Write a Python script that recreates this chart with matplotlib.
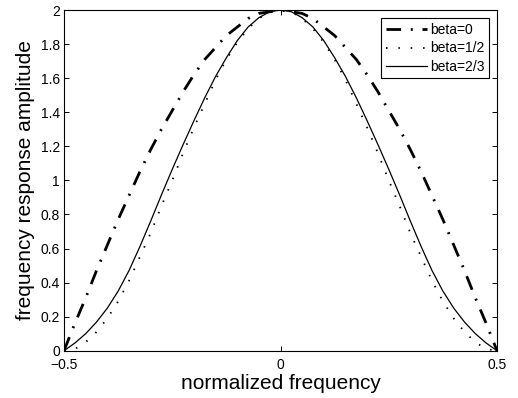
import matplotlib
matplotlib.use("Agg")
import matplotlib.pyplot as plt

plt.rcParams['font.family'] = ['Liberation Sans', 'DejaVu Sans']
plt.rcParams['lines.scale_dashes'] = False

# normalized frequency samples (every 0.025)
freq = [-0.5, -0.475, -0.45, -0.425, -0.4, -0.375, -0.35, -0.325, -0.3, -0.275,
        -0.25, -0.225, -0.2, -0.175, -0.15, -0.125, -0.1, -0.075, -0.05, -0.025,
        0.0, 0.025, 0.05, 0.075, 0.1, 0.125, 0.15, 0.175, 0.2, 0.225,
        0.25, 0.275, 0.3, 0.325, 0.35, 0.375, 0.4, 0.425, 0.45, 0.475, 0.5]

# beta=0 (dash-dot)
amp_beta0 = [0.00, 0.16, 0.31, 0.47, 0.62, 0.77, 0.91, 1.05, 1.18, 1.30,
             1.41, 1.52, 1.62, 1.71, 1.78, 1.85, 1.90, 1.95, 1.98, 1.99,
             2.00, 1.99, 1.98, 1.95, 1.90, 1.85, 1.78, 1.71, 1.62, 1.52,
             1.41, 1.30, 1.18, 1.05, 0.91, 0.77, 0.62, 0.47, 0.31, 0.16, 0.00]

# beta=1/2 (dotted)
amp_beta_half = [0.00, 0.01, 0.05, 0.11, 0.19, 0.29, 0.41, 0.55, 0.69, 0.85,
                 1.00, 1.16, 1.31, 1.45, 1.59, 1.71, 1.81, 1.89, 1.95, 1.99,
                 2.00, 1.99, 1.95, 1.89, 1.81, 1.71, 1.59, 1.45, 1.31, 1.16,
                 1.00, 0.85, 0.69, 0.55, 0.41, 0.29, 0.19, 0.11, 0.05, 0.01, 0.00]

# beta=2/3 (solid)
amp_beta_2_3 = [0.00, 0.045, 0.10, 0.168, 0.25, 0.35, 0.47, 0.61, 0.76, 0.915,
                1.065, 1.21, 1.35, 1.485, 1.61, 1.72, 1.82, 1.90, 1.955, 1.99,
                2.00, 1.99, 1.955, 1.90, 1.82, 1.72, 1.61, 1.485, 1.35, 1.21,
                1.065, 0.915, 0.76, 0.61, 0.47, 0.35, 0.25, 0.168, 0.10, 0.045, 0.00]

yticks = [0, 0.2, 0.4, 0.6, 0.8, 1, 1.2, 1.4, 1.6, 1.8, 2]
yticklabels = ['0', '0.2', '0.4', '0.6', '0.8', '1', '1.2', '1.4', '1.6', '1.8', '2']
xticks = [-0.5, 0, 0.5]
xticklabels = ['\u22120.5', '0', '0.5']

fig = plt.figure(figsize=(5.18, 3.98), dpi=100)
ax = fig.add_axes([0.1236, 0.1188, 0.8359, 0.856])

ax.plot(freq, amp_beta0, color='black', linewidth=2.0,
        linestyle=(0, (10.5, 7.0, 1.4, 7.0)), label='beta=0')
ax.plot(freq, amp_beta_half, color='black', linewidth=1.3,
        linestyle=(0, (1.1, 7.8)), label='beta=1/2')
ax.plot(freq, amp_beta_2_3, color='black', linewidth=0.9,
        linestyle='-', label='beta=2/3')

ax.set_xlim(-0.5, 0.5)
ax.set_ylim(0, 2)
ax.set_xticks(xticks)
ax.set_xticklabels(xticklabels)
ax.set_yticks(yticks)
ax.set_yticklabels(yticklabels)
ax.tick_params(direction='in', length=3.6, width=0.7, labelsize=10,
               top=True, right=True, pad=3)
ax.tick_params(axis='x', pad=5.5)
for sp in ax.spines.values():
    sp.set_linewidth(0.8)

ax.set_xlabel('normalized frequency', fontsize=15, labelpad=1.5)
ax.set_ylabel('frequency response amplitude', fontsize=15, labelpad=4)

leg = ax.legend(loc='upper right', fontsize=10, handlelength=3.0,
                handletextpad=0.2, labelspacing=0.35, borderpad=0.3,
                borderaxespad=0.6, fancybox=False, framealpha=1)
leg.get_frame().set_edgecolor('black')
leg.get_frame().set_linewidth(0.8)

fig.savefig('out.png', dpi=100)
